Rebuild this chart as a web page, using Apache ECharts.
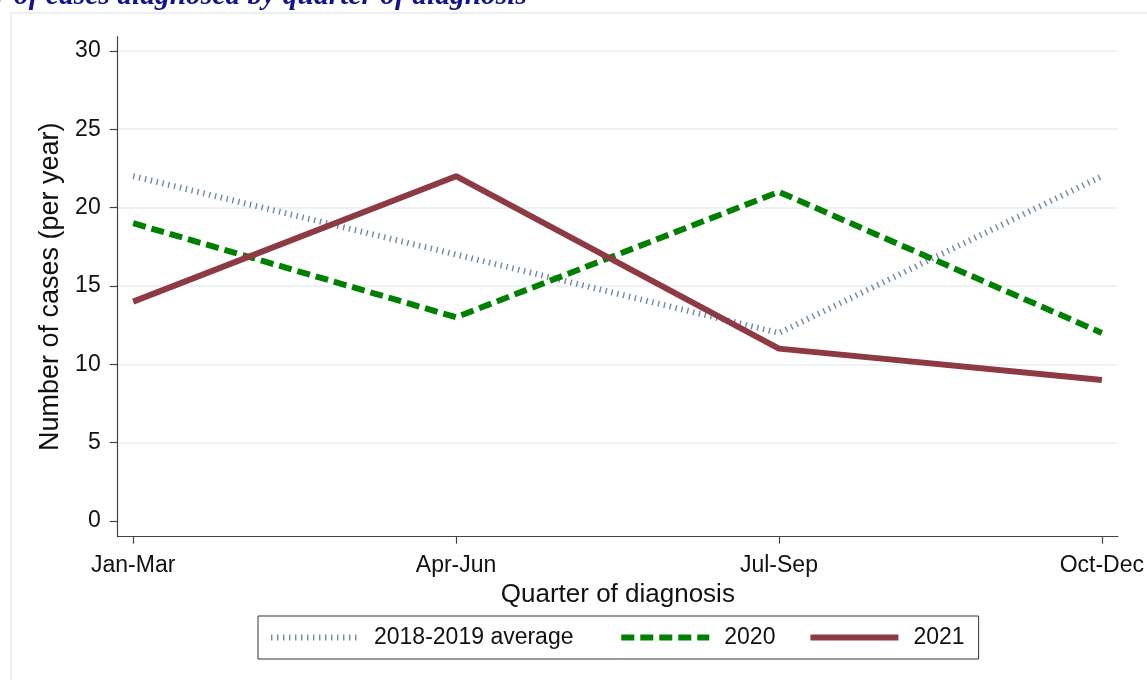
<!DOCTYPE html>
<html>
<head>
<meta charset="utf-8">
<script src="https://cdn.jsdelivr.net/npm/echarts@6/dist/echarts.min.js"></script>
<style>
html, body { margin: 0; padding: 0; background: #fff; }
#chart { width: 1147px; height: 680px; }
</style>
</head>
<body>
<div id="chart"></div>
<script>
// quarters and yearly counts
var quarters = ['Jan-Mar', 'Apr-Jun', 'Jul-Sep', 'Oct-Dec'];
var avg1819 = [22, 17, 12, 22];
var y2020 = [19, 13, 21, 12];
var y2021 = [14, 22, 11, 9];
var yTicks = [0, 5, 10, 15, 20, 25, 30];
var gridTicks = [5, 10, 15, 20, 25, 30];
var xTicks = [0, 1, 2, 3];

var font = "'Liberation Sans', Arial, sans-serif";

function pairs(arr) {
    var out = [];
    for (var i = 0; i < arr.length; i++) {
        out.push([i, arr[i]]);
    }
    return out;
}

var myChart = echarts.init(document.getElementById('chart'));
var option = {
    animation: false,
    backgroundColor: '#fff',
    graphic: [
        {
            type: 'rect',
            shape: { x: 11, y: 13, width: 1200, height: 720 },
            style: { fill: 'none', stroke: '#e3eaee', lineWidth: 1.5 },
            silent: true
        },
        {
            type: 'text',
            x: 527,
            y: 11.5,
            style: {
                text: 'Number of cases diagnosed by quarter of diagnosis',
                align: 'right',
                verticalAlign: 'bottom',
                fill: '#14148a',
                font: "italic bold 29.5px 'Liberation Serif', 'DejaVu Serif', serif"
            },
            silent: true
        }
    ],
    grid: {
        left: 117.7,
        right: 26,
        top: 36.7,
        bottom: 143.3,
        containLabel: false
    },
    legend: {
        left: 258,
        top: 616,
        itemWidth: 88,
        itemHeight: 14,
        itemGap: 32,
        padding: [10, 14, 10, 10],
        borderColor: '#333',
        borderWidth: 1,
        selectedMode: false,
        itemStyle: { opacity: 0 },
        lineStyle: { width: 'inherit' },
        formatter: function (name) {
            // extra space after the first entry, as in the original legend
            if (name.indexOf('average') > -1) {
                return '{t|' + name + '}{s|  }';
            }
            return '{t|' + name + '}';
        },
        textStyle: {
            fontFamily: font,
            fontSize: 23,
            color: '#111',
            rich: {
                t: { fontFamily: font, fontSize: 23, color: '#111', padding: [0, 0, 0, 10] },
                s: { fontFamily: font, fontSize: 23 }
            }
        },
        data: ['2018-2019 average', '2020', '2021']
    },
    xAxis: {
        type: 'value',
        min: -0.048,
        max: 3.05,
        name: 'Quarter of diagnosis',
        nameLocation: 'middle',
        nameGap: 38,
        nameTextStyle: { fontFamily: font, fontSize: 26, color: '#111' },
        axisLine: { onZero: false, lineStyle: { color: '#444', width: 1.2 } },
        axisTick: { customValues: xTicks, length: 7, lineStyle: { color: '#444', width: 1.2 } },
        axisLabel: {
            customValues: xTicks,
            margin: 17,
            fontFamily: font,
            fontSize: 23,
            color: '#111',
            formatter: function (v) {
                return quarters[Math.round(v)];
            }
        },
        splitLine: { show: false }
    },
    yAxis: [
        {
            type: 'value',
            min: -1,
            max: 30.9,
            name: 'Number of cases (per year)',
            nameLocation: 'middle',
            nameGap: 51,
            nameTextStyle: { fontFamily: font, fontSize: 27, color: '#111' },
            axisLine: { show: true, onZero: false, lineStyle: { color: '#444', width: 1.2 } },
            axisTick: { show: true, customValues: yTicks, length: 8, lineStyle: { color: '#444', width: 1.2 } },
            axisLabel: {
                customValues: yTicks,
                margin: 17,
                fontFamily: font,
                fontSize: 23,
                color: '#111'
            },
            splitLine: { show: false }
        },
        {
            type: 'value',
            min: -1,
            max: 30.9,
            position: 'left',
            axisLine: { show: false },
            axisTick: { show: false, customValues: gridTicks },
            axisLabel: { show: false, customValues: gridTicks },
            splitLine: { show: true, lineStyle: { color: '#e6eff1', width: 1.5 } }
        }
    ],
    series: [
        {
            name: '2018-2019 average',
            type: 'line',
            symbol: 'none',
            z: 2,
            data: pairs(avg1819),
            lineStyle: { color: '#6f87aa', width: 6, type: [1.4, 4.6], cap: 'butt' },
            itemStyle: { color: '#6f87aa' }
        },
        {
            name: '2020',
            type: 'line',
            symbol: 'none',
            z: 3,
            data: pairs(y2020),
            lineStyle: { color: '#008000', width: 6, type: [13, 6], cap: 'butt' },
            itemStyle: { color: '#008000' }
        },
        {
            name: '2021',
            type: 'line',
            symbol: 'none',
            z: 4,
            data: pairs(y2021),
            lineStyle: { color: '#8e3a43', width: 6 },
            itemStyle: { color: '#8e3a43' }
        }
    ]
};
myChart.setOption(option);
</script>
</body>
</html>
